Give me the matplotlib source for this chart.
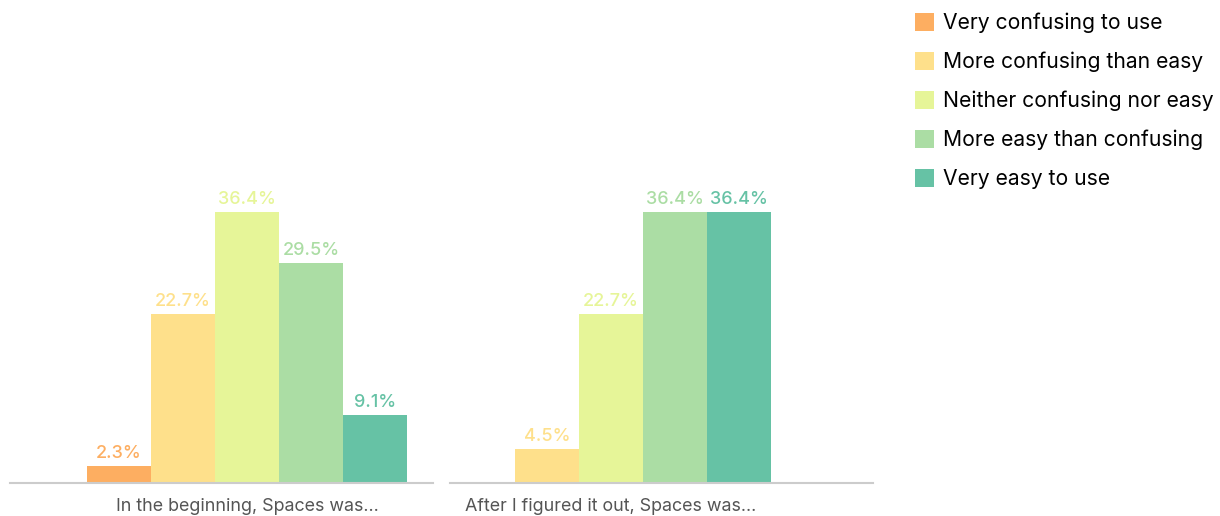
import matplotlib.pyplot as plt
from matplotlib.patches import Patch

# Respostas da pesquisa (em %)
categorias = ['Very confusing to use', 'More confusing than easy',
              'Neither confusing nor easy', 'More easy than confusing',
              'Very easy to use']
grupos = ['In the beginning, Spaces was...', 'After I figured it out, Spaces was...']
inicio = [2.3, 22.7, 36.4, 29.5, 9.1]
depois = [0.0, 4.5, 22.7, 36.4, 36.4]

# Paleta Spectral
cores = ['#fdae61', '#fee08b', '#e6f598', '#abdda4', '#66c2a5']

plt.rcParams['font.family'] = ['Inter', 'DejaVu Sans']

W, H = 1220, 516
fig = plt.figure(figsize=(W / 100, H / 100), dpi=100)

base = 483          # linha de base em pixels (a partir do topo)
escala = 7.445      # pixels por ponto percentual
larg = 64           # largura de cada barra em pixels

# (inicio do eixo, deslocamento da primeira barra) em pixels
paineis = [(10, 77), (450, 1)]
larg_eixo = 423

for (x0, desl), nome, valores in zip(paineis, grupos, [inicio, depois]):
    ax = fig.add_axes([x0 / W, (H - base) / H, larg_eixo / W, base / H])
    esq = -0.5 - desl / larg
    ax.set_xlim(esq, esq + larg_eixo / larg)
    ax.set_ylim(0, base / escala)

    pos = range(len(valores))
    ax.bar(pos, valores, width=1.0, color=cores, linewidth=0)
    for i, v in enumerate(valores):
        if v > 0:
            ax.annotate(f'{v:.1f}%', (i, v), xytext=(0, 3), textcoords='offset points',
                        ha='center', va='bottom', fontsize=13, color=cores[i],
                        fontweight='medium')

    # rótulo do grupo logo abaixo da linha de base
    ax.text(2, -28 / escala, nome, ha='center', va='baseline', fontsize=12.9,
            color='#555555', clip_on=False)

    for lado in ['left', 'right', 'top']:
        ax.spines[lado].set_visible(False)
    ax.spines['bottom'].set_color('#cccccc')
    ax.spines['bottom'].set_linewidth(1.5)
    ax.set_xticks([])
    ax.set_yticks([])
    ax.patch.set_alpha(0)

# Legenda
handles = [Patch(facecolor=c, edgecolor='none') for c in cores]
fig.legend(handles, categorias, loc='upper left', bbox_to_anchor=(902 / W, 1.0),
           frameon=False, fontsize=15.2, handlelength=0.9, handleheight=0.9,
           handletextpad=0.45, labelspacing=0.88, borderaxespad=0.2)

fig.savefig('out.png', dpi=100)
